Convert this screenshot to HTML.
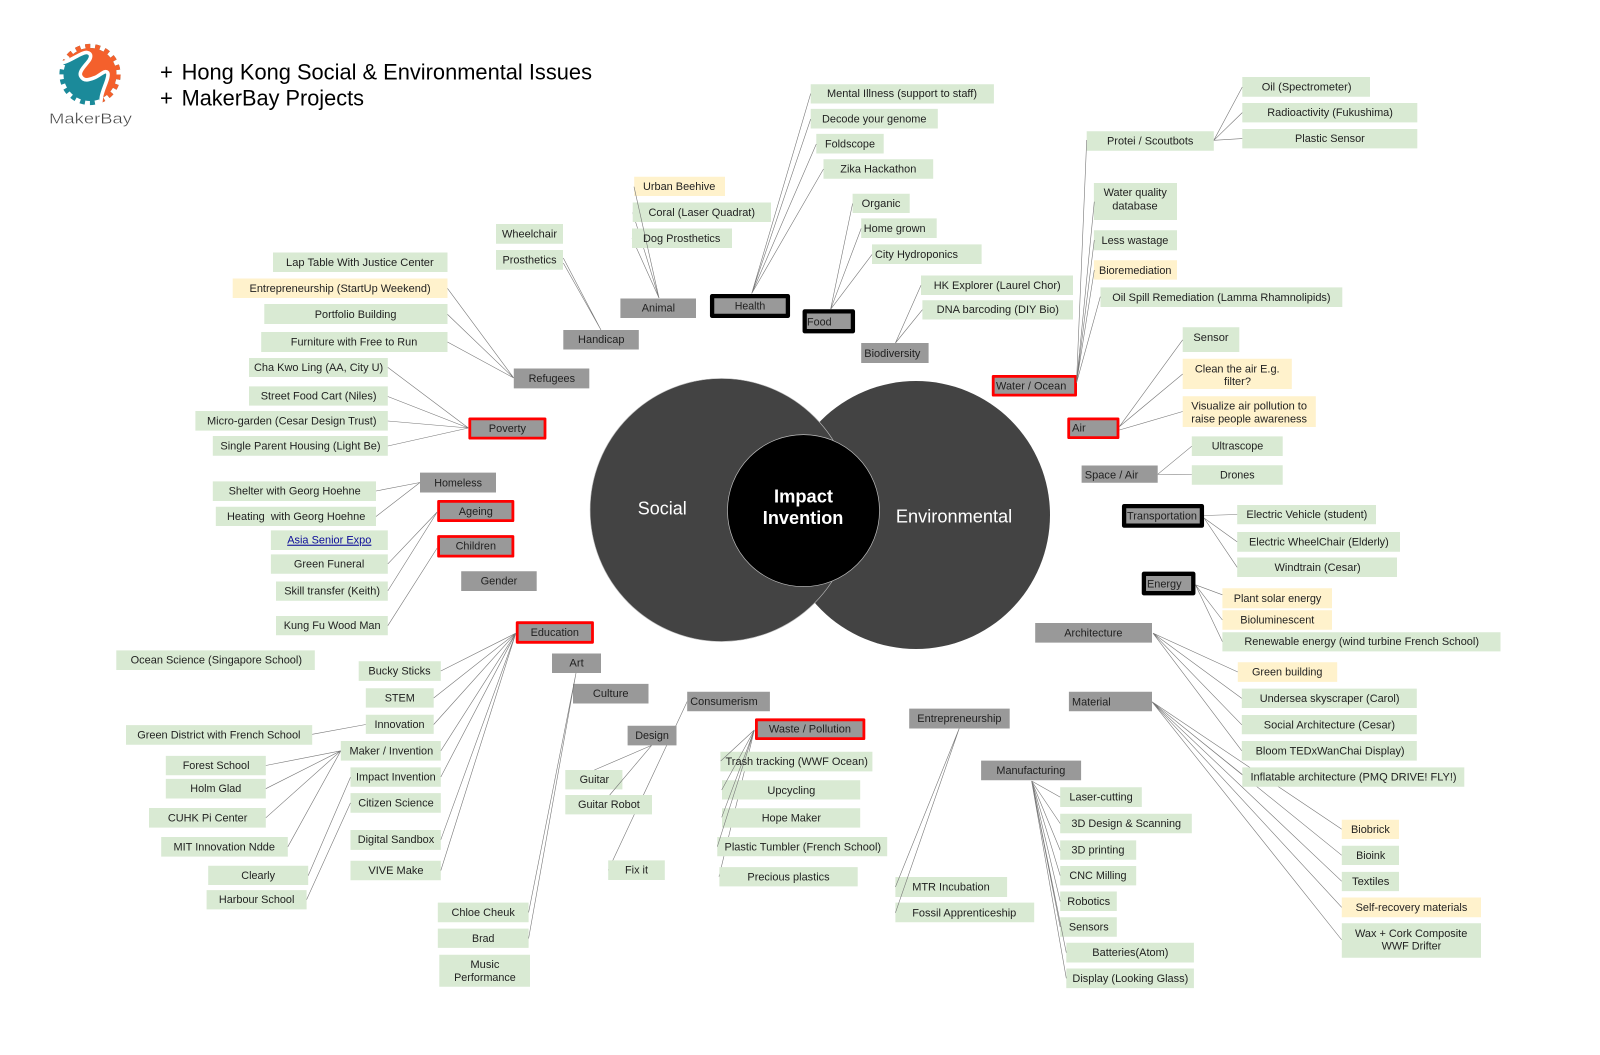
<!DOCTYPE html>
<html lang="en">
<head>
<meta charset="utf-8">
<title>Hong Kong Social &amp; Environmental Issues + MakerBay Projects</title>
<style>
html,body{margin:0;padding:0;background:#fff;width:1600px;height:1055px;overflow:hidden}
svg{display:block;filter:blur(.3px)}
text{font-family:"Liberation Sans",Arial,sans-serif;font-size:11px;fill:#1f1f1f}
.w{fill:#fff;font-size:18.5px}
.b{fill:#fff;font-size:18.5px;font-weight:bold}
.t{fill:#000;font-size:22px}
.l{fill:none;stroke:#777;stroke-width:.6}
</style>
</head>
<body>
<svg xmlns="http://www.w3.org/2000/svg" width="1600" height="1055" viewBox="0 0 1600 1055">
<rect width="1600" height="1055" fill="#fff"/>

<!-- logo -->
<defs>
<clipPath id="oc"><path d="M58,64 L65,62 C72,60 82,52 87,52.5 C92,53.5 91,57.5 89,60.5 C85,66 78,72 81,76.5 C84,82 90,79.5 95,77.5 C100,75.5 105,69.5 107.5,72.5 C110,76.5 103,88 101.5,96.5 L100,112 L140,112 L140,30 L50,30Z"/></clipPath>
</defs>
<circle cx="90" cy="74.5" r="26.5" fill="#1b8a9a"/>
<circle cx="90" cy="74.5" r="28.3" fill="none" stroke="#1b8a9a" stroke-width="4.6" stroke-dasharray="4.94 4.94"/>
<g clip-path="url(#oc)">
<circle cx="90" cy="74.5" r="26.5" fill="#f4602c"/>
<circle cx="90" cy="74.5" r="28.3" fill="none" stroke="#f4602c" stroke-width="4.6" stroke-dasharray="4.94 4.94"/>
</g>
<path d="M58,64 L65,62 C72,60 82,52 87,52.5 C92,53.5 91,57.5 89,60.5 C85,66 78,72 81,76.5 C84,82 90,79.5 95,77.5 C100,75.5 105,69.5 107.5,72.5 C110,76.5 103,88 101.5,96.5 L100,108" fill="none" stroke="#fff" stroke-width="3.6"/>
<text x="49" y="123.5" textLength="83" lengthAdjust="spacingAndGlyphs" style="font-size:15px;fill:#444;stroke:#fff;stroke-width:.35">MakerBay</text>

<text class="t" x="160" y="79.5">+</text>
<text class="t" x="181.6" y="79.5" textLength="410.4" lengthAdjust="spacingAndGlyphs">Hong Kong Social &amp; Environmental Issues</text>
<text class="t" x="160" y="105.5">+</text>
<text class="t" x="181.6" y="105.5" textLength="182.4" lengthAdjust="spacingAndGlyphs">MakerBay Projects</text>

<!-- circles -->
<circle cx="916" cy="515" r="134" fill="#434343"/>
<circle cx="721.6" cy="510" r="131.5" fill="#434343" stroke="#bbb" stroke-width=".6"/>
<circle cx="803.5" cy="510.6" r="76" fill="#000" stroke="#bbb" stroke-width=".7"/>
<text class="w" x="637.8" y="514.5" textLength="49" lengthAdjust="spacingAndGlyphs">Social</text>
<text class="w" x="895.9" y="522.5" textLength="116.3" lengthAdjust="spacingAndGlyphs">Environmental</text>
<text class="b" x="774" y="502.5" textLength="59" lengthAdjust="spacingAndGlyphs">Impact</text>
<text class="b" x="762.8" y="524" textLength="80.6" lengthAdjust="spacingAndGlyphs">Invention</text>

<!-- connectors under boxes -->
<path class="l" d="M1152,701.8L1242.9,775M1152,701.8L1341.8,829.3M1152,701.8L1341.8,855.3M1152,701.8L1341.8,881.3M1152,701.8L1341.8,907.4M1152,701.8L1341.8,940
M687.2,701.5L608.2,870.2
M659,298L632.7,212.5M659,298L632,238
M754.3,730L719,876.7"/>

<!-- green boxes -->
<path fill="#d9ead3" d="M632.7,202.5H771V222H632.7Z M632,228.5H732V248H632Z M496,224H563V243.7H496Z M496,250H563V269.7H496Z M273,252.5H447.5V272H273Z M264.3,304H447.5V324H264.3Z M261.2,332H447.5V352H261.2Z M249,358H387.8V377H249Z M249,386.4H387.8V405.6H249Z M195.4,411H387.8V430.6H195.4Z M212.8,436H387.8V455.7H212.8Z M212.8,481.4H376V501H212.8Z M215.8,506.8H376V526H215.8Z
M810.7,84.2H993.9V103.5H810.7Z M810.7,108.9H937.8V128.5H810.7Z M816.3,133.9H883.7V153.5H816.3Z M823.5,159.2H933.2V178.8H823.5Z M852.6,193.7H909.7V213H852.6Z M861.2,218.4H936.7V238H861.2Z M872,244.4H981.6V264H872Z M921,275.5H1073V295H921Z M922.4,300.2H1073V319.5H922.4Z M1086.7,131.2H1213.8V150.8H1086.7Z M1242.3,77H1370V96.7H1242.3Z M1242.3,103H1417.3V122.4H1242.3Z M1242.3,129H1417.3V148.4H1242.3Z M1093.9,183H1177V220H1093.9Z M1093.9,230.2H1177V250.2H1093.9Z M1100.5,287.4H1342.3V307H1100.5Z M1182.7,327.3H1239.3V352H1182.7Z M1191.8,436.4H1282.7V456H1191.8Z M1191.8,465.2H1282.7V484.8H1191.8Z M1237.2,505H1376V524.3H1237.2Z
M1237.2,532H1400V551.7H1237.2Z M1237.2,557.5H1397V577H1237.2Z M1222.4,632.2H1500.5V651.4H1222.4Z M1241.8,688.6H1416.8V708H1241.8Z M1241.8,715H1416.8V734.3H1241.8Z M1241.8,741H1416.8V760.6H1241.8Z M1242.3,767.4H1464.3V786.7H1242.3Z M1060.2,787.3H1141.8V807H1060.2Z M1060.2,813.7H1191.8V833.3H1060.2Z M1060.2,840.4H1136.2V859.7H1060.2Z M1060.2,866H1136.2V885.4H1060.2Z M1060.2,891.5H1116.8V911H1060.2Z M1060.2,917.2H1116.8V936.8H1060.2Z M1066.3,942.8H1193.9V962.5H1066.3Z M1066.3,968.5H1193.9V988.1H1066.3Z M895.4,877H1007.1V897H895.4Z M895.4,902.6H1034.2V922.2H895.4Z M1341.8,845.8H1399V865H1341.8Z M1341.8,871.9H1399V891.1H1341.8Z M1341.8,923.2H1481V957.7H1341.8Z
M720.4,751.8H872.4V771.4H720.4Z M722,780.2H860.2V799.5H722Z M722,808.3H860.2V827.6H722Z M717.3,837H887.2V856.3H717.3Z M719.4,867.1H857.7V886.4H719.4Z
M270.9,530.4H387.8V550H270.9Z M270.9,554.4H387.8V573.7H270.9Z M276,581.5H387.8V600.7H276Z M276,616H387.8V635.2H276Z M116.3,650.4H314.8V670H116.3Z M358.7,661.2H440.8V680.9H358.7Z M365.8,688.3H433.7V707.6H365.8Z M365.8,714.7H433.7V733.9H365.8Z M126,725.1H312.2V744.7H126Z M340.8,741H440.8V760.6H340.8Z M350.5,767.4H440.8V786.7H350.5Z M350.5,793.1H440.8V812.7H350.5Z M350.5,830H440.8V849.9H350.5Z M350.5,860.7H440.8V880.3H350.5Z M165.8,755.9H265.8V775.2H165.8Z M165.8,778.9H265.8V798.5H165.8Z M149,808H265.8V827.6H149Z M161.2,837H287.8V856.6H161.2Z M208.2,865.8H308.2V885H208.2Z M206.6,890.1H306.6V909.4H206.6Z M565.3,770H622.4V789.4H565.3Z M565.3,795H652V814.4H565.3Z M608.2,860.4H664.8V880H608.2Z M437.8,902.6H528.6V922.2H437.8Z M437.8,928.6H528.6V947.9H437.8Z M439.3,954.7H530V986.8H439.3Z"/>

<!-- yellow boxes -->
<path fill="#fff2cc" d="M634.2,176.8H725V196H634.2Z M232.7,278.5H447.5V298H232.7Z M1093.9,260.3H1177V279.6H1093.9Z M1182.7,358.7H1291.8V389H1182.7Z M1182.7,396.2H1315.8V427H1182.7Z M1222.4,588.2H1332V608.2H1222.4Z M1222.4,610.2H1332V629.8H1222.4Z M1237.8,662.3H1337.2V681.9H1237.8Z M1341.8,819.8H1399V839H1341.8Z M1341.8,897.5H1481V917.2H1341.8Z"/>

<!-- grey boxes -->
<path fill="#999" d="M620.4,298.5H696V318H620.4Z M563.3,330H638.8V349.5H563.3Z M513.8,368.5H589.3V388.4H513.8Z M420,472.6H496V492.5H420Z M861.2,343H928.6V363H861.2Z M1081.6,465.5H1157.7V482.8H1081.6Z M1035.2,623H1152V642.6H1035.2Z M1068.9,691.7H1152V711.3H1068.9Z M909.2,708.6H1009.7V728.5H909.2Z M981.1,760.6H1081.1V780.2H981.1Z M461.2,571.3H536.7V591H461.2Z M552,653.5H601V673H552Z M573,683.9H648.5V703.5H573Z M687.2,691.7H769.9V711.3H687.2Z M627.6,725.8H676.5V745.4H627.6Z"/>

<!-- red-outlined boxes -->
<path fill="#999" stroke="#f00" stroke-width="2.8" stroke-linejoin="round" d="M469.8,418.9H545V438.1H469.8Z M438.6,501.4H512.9V520.6H438.6Z M438.6,536.5H512.9V556.1H438.6Z M517.2,622.7H592.5V642.3H517.2Z M993.2,376.4H1075.6V395.1H993.2Z M1068.7,418.9H1118V437.6H1068.7Z M756.4,719.8H863.9V738.6H756.4Z"/>

<!-- black-outlined boxes -->
<path fill="#999" stroke="#000" stroke-width="4.3" stroke-linejoin="round" d="M712.1,296.1H787.9V315.9H712.1Z M804.7,311.4H852.9V331.2H804.7Z M1124.1,506.1H1201.9V525.6H1124.1Z M1143.9,573.8H1193.3V593.2H1143.9Z"/>

<!-- connectors over boxes -->
<path class="l" d="M513.8,378L447.5,288.4M513.8,378L447.5,314.4M513.8,378L447.5,342
M468.4,428L387.8,367.4M468.4,428L387.8,396.5M468.4,428L387.8,421M468.4,428L387.8,446
M420,482.5L376,491M420,482.5L376,516.5
M437.2,512L387.8,563.9M437.2,512L387.8,590.9M437.2,548L387.8,625.7
M601,330L563.3,258M601,330L563.3,263
M659,298L634,186.7
M751.7,293.5L810.7,93.6M751.7,293.5L810.7,119M751.7,293.5L816.3,144M751.7,293.5L823.5,169
M830.6,309.3L852.6,203.5M830.6,309.3L861.2,228.5M830.6,309.3L872,254.6
M895.4,343L921,285.3M895.4,343L922.4,309.7
M1076.5,383L1086.7,140M1076.5,383L1094.3,201.7M1076.5,383L1094.3,240M1076.5,383L1094.3,270M1076.5,383L1100.3,296.7
M1213.8,140.3L1242.3,87M1213.8,140.3L1242.3,112.6M1213.8,140.3L1242.3,138.6
M1119.4,426.6L1182.7,339.8M1119.4,426.6L1182.7,374M1119.4,430L1182.7,411.5
M1157.7,474.3L1191.8,446.2M1157.7,474.3L1191.8,474.5
M1204,515.5L1237.2,514.5M1204,518L1237.2,541.9M1204,518L1237.2,567.3
M1195.4,584.8L1222.4,594.8M1195.4,584.8L1222.4,620M1195.4,584.8L1222.4,641.6
M1153,633.2L1237.8,672M1153,633.2L1241.8,698.4M1153,633.2L1241.8,724.8M1153,633.2L1241.8,750.8
M651.6,745.4L594.4,770M651.6,745.4L609.7,795
M515.8,633.2L440.8,671M515.8,633.2L433.7,698M515.8,633.2L433.7,724.5M515.8,633.2L440.8,750.8M515.8,633.2L440.8,777M515.8,633.2L440.8,839.7M515.8,633.2L440.8,870.5
M365.8,724.5L312.2,734.3
M340.8,750.8L265.8,765.5M340.8,750.8L265.8,788.7M340.8,750.8L265.8,817.8M340.8,750.8L287.8,846.8
M350.5,777.2L308.2,875.6M350.5,802.9L306.6,899.6
M576,673L528.6,912.4M576,673L528.6,938.5
M754.3,730L720.7,761M754.3,730L721.7,790M754.3,730L721.7,817.3M754.3,730L717.3,846.7
M959.2,728.5L895.4,887M959.2,728.5L895.4,912.8
M1031.6,781L1060.2,797.1M1031.6,781L1060.2,823.5M1031.6,781L1060.2,850.2M1031.6,781L1060.2,875.6M1031.6,781L1060.2,901.3M1031.6,781L1060.2,927M1031.6,781L1066.3,952.7M1031.6,781L1066.3,978.3"/>

<g transform="translate(0,-.5)">
<!-- labels: top-left quadrant -->
<text x="643" y="190.3" textLength="72.3" lengthAdjust="spacingAndGlyphs">Urban Beehive</text>
<text x="648.5" y="216.3" textLength="106.5" lengthAdjust="spacingAndGlyphs">Coral (Laser Quadrat)</text>
<text x="643" y="242.3" textLength="77.4" lengthAdjust="spacingAndGlyphs">Dog Prosthetics</text>
<text x="502" y="237.9" textLength="55" lengthAdjust="spacingAndGlyphs">Wheelchair</text>
<text x="502.5" y="264" textLength="54.1" lengthAdjust="spacingAndGlyphs">Prosthetics</text>
<text x="286" y="266.3" textLength="147.7" lengthAdjust="spacingAndGlyphs">Lap Table With Justice Center</text>
<text x="249.5" y="292.3" textLength="181.1" lengthAdjust="spacingAndGlyphs">Entrepreneurship (StartUp Weekend)</text>
<text x="314.8" y="318.3" textLength="81.6" lengthAdjust="spacingAndGlyphs">Portfolio Building</text>
<text x="290.8" y="346" textLength="126.5" lengthAdjust="spacingAndGlyphs">Furniture with Free to Run</text>
<text x="254" y="371.4" textLength="129.2" lengthAdjust="spacingAndGlyphs">Cha Kwo Ling (AA, City U)</text>
<text x="260.7" y="400" textLength="115.8" lengthAdjust="spacingAndGlyphs">Street Food Cart (Niles)</text>
<text x="207" y="425" textLength="169.5" lengthAdjust="spacingAndGlyphs">Micro-garden (Cesar Design Trust)</text>
<text x="220.4" y="450" textLength="160.2" lengthAdjust="spacingAndGlyphs">Single Parent Housing (Light Be)</text>
<text x="641.8" y="312" textLength="33.2" lengthAdjust="spacingAndGlyphs">Animal</text>
<text x="734.7" y="310.2" textLength="30.6" lengthAdjust="spacingAndGlyphs">Health</text>
<text x="578" y="343.7" textLength="46.5" lengthAdjust="spacingAndGlyphs">Handicap</text>
<text x="528.6" y="382.6" textLength="46.4" lengthAdjust="spacingAndGlyphs">Refugees</text>
<text x="488.8" y="432.3" textLength="37.2" lengthAdjust="spacingAndGlyphs">Poverty</text>
<text x="434.2" y="486.8" textLength="47.8" lengthAdjust="spacingAndGlyphs">Homeless</text>
<text x="228.6" y="495.2" textLength="132.1" lengthAdjust="spacingAndGlyphs">Shelter with Georg Hoehne</text>
<text x="227" y="520.6" textLength="138.3" lengthAdjust="spacingAndGlyphs" xml:space="preserve">Heating  with Georg Hoehne</text>
<text x="458.7" y="515.5" textLength="34.2" lengthAdjust="spacingAndGlyphs">Ageing</text>

<!-- labels: top-right quadrant -->
<text x="827" y="97.6" textLength="150" lengthAdjust="spacingAndGlyphs">Mental Illness (support to staff)</text>
<text x="822" y="123" textLength="104.5" lengthAdjust="spacingAndGlyphs">Decode your genome</text>
<text x="825" y="148" textLength="50" lengthAdjust="spacingAndGlyphs">Foldscope</text>
<text x="840.3" y="173" textLength="76" lengthAdjust="spacingAndGlyphs">Zika Hackathon</text>
<text x="861.7" y="207.5" textLength="38.8" lengthAdjust="spacingAndGlyphs">Organic</text>
<text x="863.8" y="232.5" textLength="61.7" lengthAdjust="spacingAndGlyphs">Home grown</text>
<text x="875" y="258.6" textLength="83" lengthAdjust="spacingAndGlyphs">City Hydroponics</text>
<text x="933.7" y="289.3" textLength="127" lengthAdjust="spacingAndGlyphs">HK Explorer (Laurel Chor)</text>
<text x="936.7" y="313.7" textLength="122.3" lengthAdjust="spacingAndGlyphs">DNA barcoding (DIY Bio)</text>
<text x="807" y="325.8" textLength="24.6" lengthAdjust="spacingAndGlyphs">Food</text>
<text x="864.3" y="357.3" textLength="56.1" lengthAdjust="spacingAndGlyphs">Biodiversity</text>
<text x="996" y="390" textLength="70.3" lengthAdjust="spacingAndGlyphs">Water / Ocean</text>
<text x="1107" y="145" textLength="86.4" lengthAdjust="spacingAndGlyphs">Protei / Scoutbots</text>
<text x="1261.7" y="91" textLength="89.8" lengthAdjust="spacingAndGlyphs">Oil (Spectrometer)</text>
<text x="1267.3" y="116.6" textLength="125.6" lengthAdjust="spacingAndGlyphs">Radioactivity (Fukushima)</text>
<text x="1295" y="142.6" textLength="69.8" lengthAdjust="spacingAndGlyphs">Plastic Sensor</text>
<text x="1103.6" y="196.7" textLength="63.2" lengthAdjust="spacingAndGlyphs">Water quality</text>
<text x="1112.2" y="209.9" textLength="45.5" lengthAdjust="spacingAndGlyphs">database</text>
<text x="1101.5" y="244.4" textLength="66.9" lengthAdjust="spacingAndGlyphs">Less wastage</text>
<text x="1099" y="274.5" textLength="72.4" lengthAdjust="spacingAndGlyphs">Bioremediation</text>
<text x="1112.2" y="301.5" textLength="218.4" lengthAdjust="spacingAndGlyphs">Oil Spill Remediation (Lamma Rhamnolipids)</text>
<text x="1193.4" y="341.4" textLength="35.2" lengthAdjust="spacingAndGlyphs">Sensor</text>
<text x="1194.9" y="372.8" textLength="84.7" lengthAdjust="spacingAndGlyphs">Clean the air E.g.</text>
<text x="1224" y="385.3" textLength="27" lengthAdjust="spacingAndGlyphs">filter?</text>
<text x="1191.3" y="410" textLength="115.7" lengthAdjust="spacingAndGlyphs">Visualize air pollution to</text>
<text x="1191.3" y="423.2" textLength="115.7" lengthAdjust="spacingAndGlyphs">raise people awareness</text>
<text x="1072" y="432" textLength="13.7" lengthAdjust="spacingAndGlyphs">Air</text>
<text x="1211.7" y="450.2" textLength="51.6" lengthAdjust="spacingAndGlyphs">Ultrascope</text>
<text x="1084.7" y="479" textLength="53.6" lengthAdjust="spacingAndGlyphs">Space / Air</text>
<text x="1220" y="479" textLength="34.6" lengthAdjust="spacingAndGlyphs">Drones</text>
<text x="1127" y="520.2" textLength="70" lengthAdjust="spacingAndGlyphs">Transportation</text>
<text x="1246.4" y="518.5" textLength="120.9" lengthAdjust="spacingAndGlyphs">Electric Vehicle (student)</text>

<!-- labels: bottom-right quadrant -->
<text x="1249" y="545.9" textLength="139.8" lengthAdjust="spacingAndGlyphs">Electric WheelChair (Elderly)</text>
<text x="1274.5" y="571.3" textLength="86.2" lengthAdjust="spacingAndGlyphs">Windtrain (Cesar)</text>
<text x="1147" y="587.8" textLength="34.6" lengthAdjust="spacingAndGlyphs">Energy</text>
<text x="1233.7" y="602.4" textLength="87.7" lengthAdjust="spacingAndGlyphs">Plant solar energy</text>
<text x="1240.3" y="624" textLength="74" lengthAdjust="spacingAndGlyphs">Bioluminescent</text>
<text x="1244.4" y="645.6" textLength="234.6" lengthAdjust="spacingAndGlyphs">Renewable energy (wind turbine French School)</text>
<text x="1064.3" y="636.8" textLength="58.1" lengthAdjust="spacingAndGlyphs">Architecture</text>
<text x="1252" y="676" textLength="70.4" lengthAdjust="spacingAndGlyphs">Green building</text>
<text x="1259.7" y="702.4" textLength="139.8" lengthAdjust="spacingAndGlyphs">Undersea skyscraper (Carol)</text>
<text x="1263.8" y="728.8" textLength="131.2" lengthAdjust="spacingAndGlyphs">Social Architecture (Cesar)</text>
<text x="1255.6" y="754.8" textLength="149" lengthAdjust="spacingAndGlyphs">Bloom TEDxWanChai Display)</text>
<text x="1250.5" y="781.2" textLength="206.1" lengthAdjust="spacingAndGlyphs">Inflatable architecture (PMQ DRIVE! FLY!)</text>
<text x="1072" y="705.8" textLength="38.7" lengthAdjust="spacingAndGlyphs">Material</text>
<text x="917.3" y="722.4" textLength="84.2" lengthAdjust="spacingAndGlyphs">Entrepreneurship</text>
<text x="996.4" y="774.4" textLength="68.9" lengthAdjust="spacingAndGlyphs">Manufacturing</text>
<text x="1069.4" y="801.1" textLength="63.3" lengthAdjust="spacingAndGlyphs">Laser-cutting</text>
<text x="1071.4" y="827.5" textLength="109.7" lengthAdjust="spacingAndGlyphs">3D Design &amp; Scanning</text>
<text x="1071.4" y="854.2" textLength="53.1" lengthAdjust="spacingAndGlyphs">3D printing</text>
<text x="1069.4" y="879.6" textLength="57.1" lengthAdjust="spacingAndGlyphs">CNC Milling</text>
<text x="1067.3" y="905.3" textLength="42.9" lengthAdjust="spacingAndGlyphs">Robotics</text>
<text x="1068.9" y="931" textLength="39.8" lengthAdjust="spacingAndGlyphs">Sensors</text>
<text x="1092.3" y="956.7" textLength="76.1" lengthAdjust="spacingAndGlyphs">Batteries(Atom)</text>
<text x="1072.4" y="982.3" textLength="115.9" lengthAdjust="spacingAndGlyphs">Display (Looking Glass)</text>
<text x="912.2" y="891" textLength="77.6" lengthAdjust="spacingAndGlyphs">MTR Incubation</text>
<text x="912.2" y="916.8" textLength="104.1" lengthAdjust="spacingAndGlyphs">Fossil Apprenticeship</text>
<text x="1351" y="833.3" textLength="38.8" lengthAdjust="spacingAndGlyphs">Biobrick</text>
<text x="1356.1" y="859.3" textLength="29.1" lengthAdjust="spacingAndGlyphs">Bioink</text>
<text x="1352" y="885.3" textLength="37.3" lengthAdjust="spacingAndGlyphs">Textiles</text>
<text x="1355.6" y="911.4" textLength="111.7" lengthAdjust="spacingAndGlyphs">Self-recovery materials</text>
<text x="1355" y="937.4" textLength="112.3" lengthAdjust="spacingAndGlyphs">Wax + Cork Composite</text>
<text x="1381.6" y="950.2" textLength="59.7" lengthAdjust="spacingAndGlyphs">WWF Drifter</text>
<text x="768.9" y="733.2" textLength="82.1" lengthAdjust="spacingAndGlyphs">Waste / Pollution</text>
<text x="725.5" y="765.3" textLength="142.4" lengthAdjust="spacingAndGlyphs">Trash tracking (WWF Ocean)</text>
<text x="767.4" y="794.4" textLength="47.9" lengthAdjust="spacingAndGlyphs">Upcycling</text>
<text x="761.7" y="822.1" textLength="59.3" lengthAdjust="spacingAndGlyphs">Hope Maker</text>
<text x="724.5" y="850.8" textLength="156.6" lengthAdjust="spacingAndGlyphs">Plastic Tumbler (French School)</text>
<text x="747.4" y="881" textLength="82.2" lengthAdjust="spacingAndGlyphs">Precious plastics</text>

<!-- labels: bottom-left quadrant -->
<text x="287.2" y="544.2" textLength="84.2" lengthAdjust="spacingAndGlyphs" style="fill:#0b0b99;text-decoration:underline">Asia Senior Expo</text>
<text x="293.9" y="567.9" textLength="70.4" lengthAdjust="spacingAndGlyphs">Green Funeral</text>
<text x="284.2" y="594.9" textLength="95.8" lengthAdjust="spacingAndGlyphs">Skill transfer (Keith)</text>
<text x="283.7" y="629.7" textLength="96.9" lengthAdjust="spacingAndGlyphs">Kung Fu Wood Man</text>
<text x="455.6" y="550" textLength="40.4" lengthAdjust="spacingAndGlyphs">Children</text>
<text x="480.6" y="585.1" textLength="36.7" lengthAdjust="spacingAndGlyphs">Gender</text>
<text x="530.6" y="636.5" textLength="48.4" lengthAdjust="spacingAndGlyphs">Education</text>
<text x="130.6" y="664.2" textLength="171.4" lengthAdjust="spacingAndGlyphs">Ocean Science (Singapore School)</text>
<text x="368.4" y="675" textLength="62.2" lengthAdjust="spacingAndGlyphs">Bucky Sticks</text>
<text x="384.7" y="702" textLength="30.1" lengthAdjust="spacingAndGlyphs">STEM</text>
<text x="374.5" y="728.5" textLength="50" lengthAdjust="spacingAndGlyphs">Innovation</text>
<text x="137.2" y="739" textLength="163.3" lengthAdjust="spacingAndGlyphs">Green District with French School</text>
<text x="349.5" y="754.8" textLength="83.7" lengthAdjust="spacingAndGlyphs">Maker / Invention</text>
<text x="356" y="781.2" textLength="79.7" lengthAdjust="spacingAndGlyphs">Impact Invention</text>
<text x="358.2" y="806.9" textLength="75.5" lengthAdjust="spacingAndGlyphs">Citizen Science</text>
<text x="357.7" y="843.7" textLength="76.5" lengthAdjust="spacingAndGlyphs">Digital Sandbox</text>
<text x="368.4" y="874.5" textLength="55.1" lengthAdjust="spacingAndGlyphs">VIVE Make</text>
<text x="182.7" y="769.4" textLength="66.8" lengthAdjust="spacingAndGlyphs">Forest School</text>
<text x="190.3" y="792.7" textLength="51" lengthAdjust="spacingAndGlyphs">Holm Glad</text>
<text x="167.9" y="821.8" textLength="79.5" lengthAdjust="spacingAndGlyphs">CUHK Pi Center</text>
<text x="173.5" y="850.8" textLength="101.5" lengthAdjust="spacingAndGlyphs">MIT Innovation Ndde</text>
<text x="241.3" y="879.6" textLength="33.7" lengthAdjust="spacingAndGlyphs">Clearly</text>
<text x="218.9" y="903.6" textLength="75.5" lengthAdjust="spacingAndGlyphs">Harbour School</text>
<text x="569.4" y="667" textLength="14.3" lengthAdjust="spacingAndGlyphs">Art</text>
<text x="592.9" y="697.7" textLength="35.7" lengthAdjust="spacingAndGlyphs">Culture</text>
<text x="690.3" y="705.5" textLength="67.4" lengthAdjust="spacingAndGlyphs">Consumerism</text>
<text x="635.2" y="739.6" textLength="33.7" lengthAdjust="spacingAndGlyphs">Design</text>
<text x="579.6" y="783.6" textLength="29.6" lengthAdjust="spacingAndGlyphs">Guitar</text>
<text x="578" y="808.6" textLength="61.8" lengthAdjust="spacingAndGlyphs">Guitar Robot</text>
<text x="625" y="874.2" textLength="23" lengthAdjust="spacingAndGlyphs">Fix it</text>
<text x="451.5" y="916.4" textLength="63.3" lengthAdjust="spacingAndGlyphs">Chloe Cheuk</text>
<text x="472" y="942.5" textLength="22.4" lengthAdjust="spacingAndGlyphs">Brad</text>
<text x="470.4" y="968.5" textLength="29.1" lengthAdjust="spacingAndGlyphs">Music</text>
<text x="454.1" y="981.3" textLength="61.7" lengthAdjust="spacingAndGlyphs">Performance</text>
</g>
</svg>
</body>
</html>
